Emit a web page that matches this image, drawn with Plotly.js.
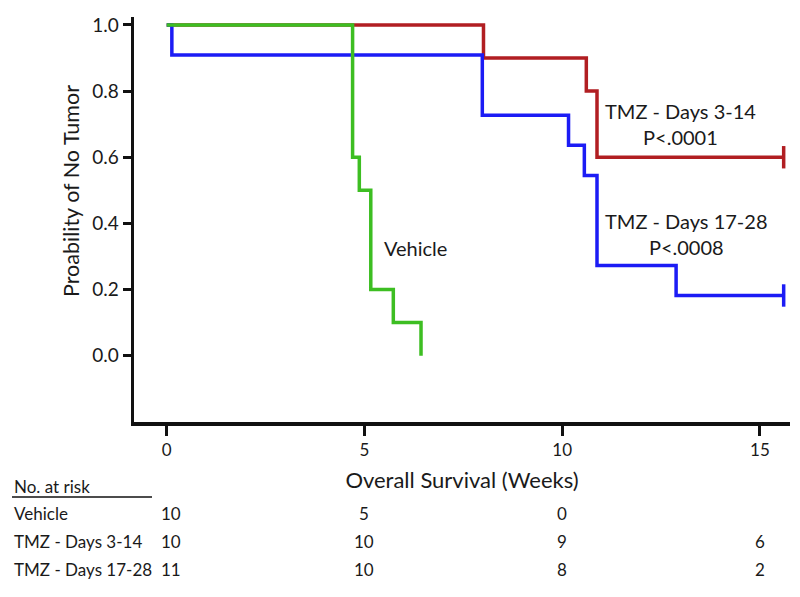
<!DOCTYPE html>
<html>
<head>
<meta charset="utf-8">
<script src="https://cdn.plot.ly/plotly-3.0.1.min.js"></script>
<style>html,body{margin:0;padding:0;background:#fff;}#chart{width:800px;height:597px;}</style>
</head>
<body>
<div id="chart"></div>
<script>
// ---- Data ----
const vehicleTimes = [0, 4.70, 4.87, 5.16, 5.73, 6.43];
const vehicleSurv  = [1.0, 0.6, 0.5, 0.2, 0.1, 0.0];

const days3Times = [0, 8.01, 10.61, 10.88, 15.6];
const days3Surv  = [1.0, 0.9, 0.8, 0.6, 0.6];

const days17Times = [0, 0.13, 7.98, 10.16, 10.56, 10.88, 12.88, 15.6];
const days17Surv  = [1.0, 0.909, 0.727, 0.636, 0.545, 0.273, 0.182, 0.182];

const riskTimes   = [0, 5, 10, 15];
const riskLabels  = ["Vehicle", "TMZ - Days 3-14", "TMZ - Days 17-28"];
const riskVehicle = ["10", "5", "0", ""];
const riskDays3   = ["10", "10", "9", "6"];
const riskDays17  = ["11", "10", "8", "2"];

const xTicks = [0, 5, 10, 15];
const yTicks = [0, 0.2, 0.4, 0.6, 0.8, 1.0];

// ---- Layout geometry ----
const W = 800, H = 597;
const M = {l: 134, r: 10, t: 17, b: 175};
const xRange = [-0.827, 15.76];
const yRange = [-0.2005, 1.024];
const FONT = "Lato, 'Open Sans', sans-serif";
const colRed = "#B11E22", colBlue = "#1C1CF5", colGreen = "#3DBE22";

const plotH = H - M.t - M.b;
const plotW = W - M.l - M.r;
function pxToPaperY(py) { return (H - M.b - py) / plotH; }
function pxToPaperX(px) { return (px - M.l) / plotW; }

function km(times, surv, color, censor) {
  const out = [{
    x: times, y: surv, mode: "lines", type: "scatter",
    line: {shape: "hv", color: color, width: 3.5},
    hoverinfo: "skip", showlegend: false
  }];
  if (censor) {
    out.push({
      x: [times[times.length - 1]], y: [surv[surv.length - 1]],
      mode: "markers", type: "scatter",
      marker: {symbol: "line-ns", size: 16, line: {color: color, width: 3.5}},
      hoverinfo: "skip", showlegend: false
    });
  }
  return out;
}

const traces = [].concat(
  km(days3Times, days3Surv, colRed, true),
  km(days17Times, days17Surv, colBlue, true),
  km(vehicleTimes, vehicleSurv, colGreen, false)
);

const annFont = {family: FONT, size: 20, color: "#1a1a1a"};
const tblFont = {family: FONT, size: 17, color: "#1a1a1a"};

const annotations = [
  {x: 6.28, y: 0.326, xref: "x", yref: "y", text: "Vehicle", showarrow: false, font: annFont},
  {x: 13.0, y: 0.70, xref: "x", yref: "y", text: "TMZ - Days 3-14<br>P<.0001", showarrow: false, font: annFont, align: "center"},
  {x: 13.13, y: 0.368, xref: "x", yref: "y", text: "TMZ - Days 17-28<br>P<.0008", showarrow: false, font: annFont, align: "center"},
  {x: pxToPaperX(71), y: pxToPaperY(191), xref: "paper", yref: "paper", xanchor: "center", yanchor: "middle",
   textangle: -90, text: "Proability of No Tumor", showarrow: false,
   font: {family: FONT, size: 21.5, color: "#1a1a1a"}},
  {x: pxToPaperX(12), y: pxToPaperY(486), xref: "paper", yref: "paper", xanchor: "left", yanchor: "middle",
   text: "No. at risk", showarrow: false, font: tblFont}
];

const rowY = [513, 541, 569];
const rows = [riskVehicle, riskDays3, riskDays17];
riskLabels.forEach((lab, i) => {
  annotations.push({x: pxToPaperX(12), y: pxToPaperY(rowY[i]), xref: "paper", yref: "paper",
    xanchor: "left", yanchor: "middle", text: lab, showarrow: false, font: tblFont});
  riskTimes.forEach((t, j) => {
    if (rows[i][j] === "") return;
    annotations.push({x: t, y: pxToPaperY(rowY[i]), xref: "x", yref: "paper",
      xanchor: "center", yanchor: "middle",
      xshift: j === 0 ? 4 : 0, text: rows[i][j], showarrow: false, font: tblFont});
  });
});

const layout = {
  width: W, height: H,
  margin: M,
  paper_bgcolor: "#fff", plot_bgcolor: "#fff",
  font: {family: FONT, color: "#1a1a1a"},
  showlegend: false,
  xaxis: {
    range: xRange, tickvals: xTicks, ticktext: xTicks.map(String),
    showgrid: false, zeroline: false, showline: true, linecolor: "#111", linewidth: 3.5,
    ticks: "outside", ticklen: 10, tickwidth: 3, tickcolor: "#111",
    tickfont: {family: FONT, size: 17, color: "#1a1a1a"},
    title: {text: "Overall Survival (Weeks)", font: {family: FONT, size: 22, color: "#1a1a1a"}, standoff: 14},
    automargin: false, fixedrange: true
  },
  yaxis: {
    range: yRange, tickvals: yTicks, ticktext: yTicks.map(v => v.toFixed(1)),
    showgrid: false, zeroline: false, showline: true, linecolor: "#111", linewidth: 3.5,
    ticks: "outside", ticklen: 8, tickwidth: 3, tickcolor: "#111",
    tickfont: {family: FONT, size: 19, color: "#1a1a1a"},
    automargin: false, fixedrange: true
  },
  annotations: annotations,
  shapes: [
    {type: "line", xref: "paper", yref: "paper",
     x0: pxToPaperX(12), x1: pxToPaperX(152), y0: pxToPaperY(497), y1: pxToPaperY(497),
     line: {color: "#111", width: 1.5}}
  ]
};

Plotly.newPlot("chart", traces, layout, {displayModeBar: false, staticPlot: true});
</script>
</body>
</html>
